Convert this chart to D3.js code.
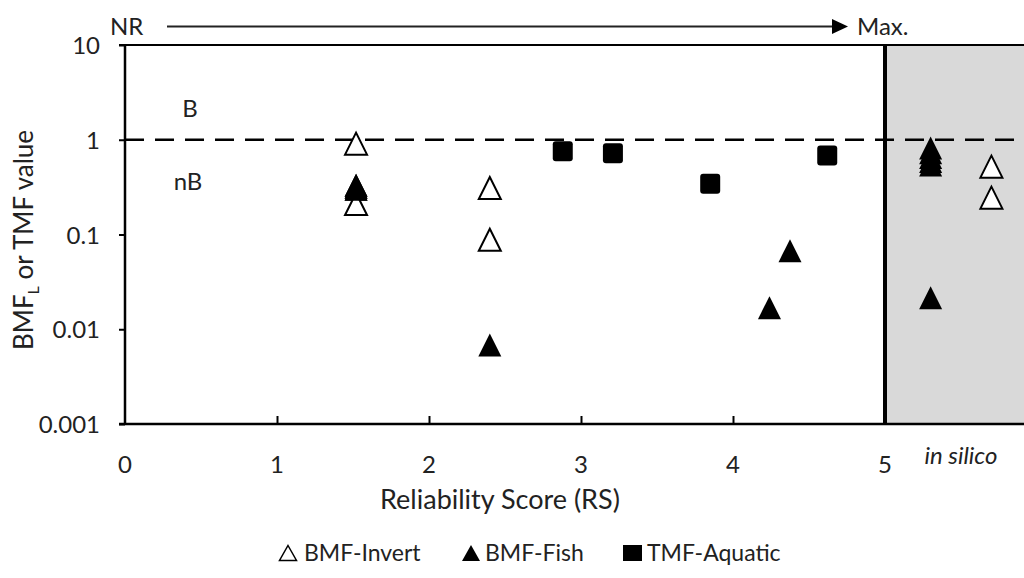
<!DOCTYPE html>
<html><head><meta charset="utf-8">
<script src="https://cdn.jsdelivr.net/npm/d3@7"></script>
<style>body{margin:0;background:#fff}svg{display:block}text{font-family:Lato,"Open Sans",sans-serif;fill:#222}</style>
</head><body><svg id="c" width="1024" height="578"></svg>
<script>
const xTicks = [0, 1, 2, 3, 4, 5];
const yTicks = [10, 1, 0.1, 0.01, 0.001];
const yTickLabels = ["10", "1", "0.1", "0.01", "0.001"];
const invertX = [1.52, 1.52, 2.40, 2.40, 5.70, 5.70];
const invertY = [0.91, 0.21, 0.31, 0.088, 0.52, 0.245];
const fishX = [1.52, 1.52, 1.52, 2.40, 4.24, 4.375, 5.30, 5.30, 5.30, 5.30, 5.30, 5.30];
const fishY = [0.33, 0.315, 0.30, 0.0068, 0.0169, 0.0675, 0.82, 0.73, 0.65, 0.59, 0.54, 0.0215];
const tmfX = [2.88, 3.21, 3.85, 4.62];
const tmfY = [0.756, 0.72, 0.343, 0.68];
const legendLabels = ["BMF-Invert", "BMF-Fish", "TMF-Aquatic"];

const svg = d3.select("#c");
const x = d3.scaleLinear().domain([0, 6]).range([125, 125 + 6 * 152]);
const y = d3.scaleLog().domain([0.001, 10]).range([424, 45]);
const W = 1024;

// in silico shaded region
svg.append("rect").attr("x", x(5)).attr("y", y(10)).attr("width", W - x(5)).attr("height", y(0.001) - y(10)).attr("fill", "#d9d9d9");

// threshold line
svg.append("line").attr("x1", x(0)).attr("x2", W).attr("y1", y(1)).attr("y2", y(1))
  .attr("stroke", "#000").attr("stroke-width", 2.5).attr("stroke-dasharray", "19,11");

function tri(cx, cy, w, h) {
  return `M${cx},${cy - h / 2}L${cx + w / 2},${cy + h / 2}L${cx - w / 2},${cy + h / 2}Z`;
}
const g = svg.append("g");
g.selectAll(".fish").data(fishX.map((v, i) => [v, fishY[i]])).join("path")
  .attr("d", d => tri(x(d[0]), y(d[1]), 23, 23)).attr("fill", "#000");
g.selectAll(".inv").data(invertX.map((v, i) => [v, invertY[i]])).join("path")
  .attr("d", d => tri(x(d[0]), y(d[1]), 22, 22)).attr("fill", "#fff").attr("stroke", "#000").attr("stroke-width", 2).attr("stroke-linejoin", "miter");
g.selectAll(".tmf").data(tmfX.map((v, i) => [v, tmfY[i]])).join("rect")
  .attr("x", (d) => x(d[0]) - 10).attr("y", d => y(d[1]) - 10).attr("width", 20).attr("height", 20).attr("rx", 3).attr("fill", "#000");
g.selectAll(".fish2").data(fishX.map((v, i) => [v, fishY[i]]).filter(d => d[0] < 2)).join("path")
  .attr("d", d => tri(x(d[0]), y(d[1]), 23, 23)).attr("fill", "#000");

// axes
const xAxis = d3.axisBottom(x).tickValues([1, 2, 3, 4]).tickSize(-8).tickFormat("");
const gx = svg.append("g").attr("transform", `translate(0,${y(0.001)})`).call(xAxis);
gx.select(".domain").remove();
gx.selectAll(".tick line").attr("stroke", "#000").attr("stroke-width", 2);
svg.append("line").attr("x1", x(0) - 6).attr("x2", W).attr("y1", y(0.001)).attr("y2", y(0.001)).attr("stroke", "#000").attr("stroke-width", 2.5);
svg.append("line").attr("x1", x(0) - 6).attr("x2", W).attr("y1", y(10)).attr("y2", y(10)).attr("stroke", "#000").attr("stroke-width", 2);

const yAxis = d3.axisLeft(y).tickValues(yTicks).tickSize(6).tickFormat((d, i) => yTickLabels[i]).tickPadding(19);
const gy = svg.append("g").attr("transform", `translate(${x(0)},0)`).call(yAxis);
gy.select(".domain").remove();
gy.selectAll(".tick line").attr("stroke", "#000").attr("stroke-width", 2);
gy.selectAll(".tick text").style("font-family", "Lato").attr("font-size", 24).attr("fill", "#222").attr("dy", "0.36em");
svg.append("line").attr("x1", x(0)).attr("x2", x(0)).attr("y1", y(10)).attr("y2", y(0.001)).attr("stroke", "#000").attr("stroke-width", 2.5);
svg.append("line").attr("x1", x(5)).attr("x2", x(5)).attr("y1", y(10)).attr("y2", y(0.001)).attr("stroke", "#000").attr("stroke-width", 4);

// x tick labels
svg.append("g").selectAll("text").data(xTicks).join("text")
  .attr("x", d => x(d)).attr("y", 473).attr("text-anchor", "middle").attr("font-size", 24).text(d => d);
svg.append("text").attr("x", 961).attr("y", 464).attr("text-anchor", "middle").attr("font-size", 24).attr("font-style", "italic").text("in silico");

// titles
svg.append("text").attr("x", 500).attr("y", 509).attr("text-anchor", "middle").attr("font-size", 27).text("Reliability Score (RS)");
const yt = svg.append("text").attr("transform", "translate(33,240) rotate(-90)").attr("text-anchor", "middle").attr("font-size", 26);
yt.append("tspan").text("BMF");
yt.append("tspan").attr("font-size", 16).attr("dy", 6).text("L");
yt.append("tspan").attr("dy", -6).text(" or TMF value");

// B / nB labels
svg.append("text").attr("x", 190).attr("y", 117).attr("text-anchor", "middle").attr("font-size", 24).text("B");
svg.append("text").attr("x", 188).attr("y", 190).attr("text-anchor", "middle").attr("font-size", 24).text("nB");

// NR -> Max arrow
svg.append("text").attr("x", 110).attr("y", 35).attr("font-size", 24).text("NR");
svg.append("line").attr("x1", 167).attr("x2", 836).attr("y1", 26.5).attr("y2", 26.5).attr("stroke", "#222").attr("stroke-width", 2);
svg.append("path").attr("d", "M832,19L848,26.5L832,34Z").attr("fill", "#000");
svg.append("text").attr("x", 857).attr("y", 35).attr("font-size", 24).text("Max.");

// legend
const leg = svg.append("g");
const legX = [279, 462, 623];
const legY = 553;
leg.append("path").attr("d", tri(legX[0] + 9, legY, 17, 15)).attr("fill", "#fff").attr("stroke", "#000").attr("stroke-width", 1.5);
leg.append("path").attr("d", tri(legX[1] + 9, legY, 18, 16)).attr("fill", "#000");
leg.append("rect").attr("x", legX[2]).attr("y", legY - 8).attr("width", 19).attr("height", 16).attr("fill", "#000");
leg.selectAll("text").data(legendLabels).join("text")
  .attr("x", (d, i) => legX[i] + [25, 23, 24][i]).attr("y", legY + 8).attr("font-size", 23).text(d => d);
</script></body></html>
